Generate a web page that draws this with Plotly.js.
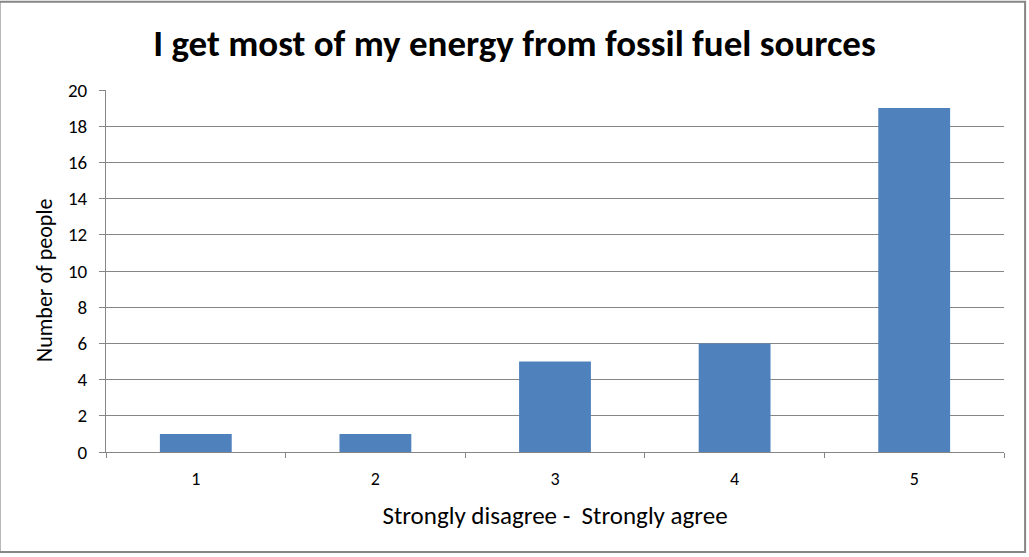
<!DOCTYPE html>
<html>
<head>
<meta charset="utf-8">
<script src="https://cdn.plot.ly/plotly-3.0.1.min.js"></script>
<style>
html,body{margin:0;padding:0;background:#fff;}
#chart{width:1029px;height:557px;}
</style>
</head>
<body>
<div id="chart"></div>
<script>
const categories = ["1", "2", "3", "4", "5"];
const counts = [1, 1, 5, 6, 19];
const yTicks = [0, 2, 4, 6, 8, 10, 12, 14, 16, 18, 20];

const titleText = "I get most of my energy from fossil fuel sources";
const xTitle = "Strongly disagree -  Strongly agree";
const yTitle = "Number of people";

const gray = "#868686";
const font = "Carlito, 'Open Sans', 'Noto Sans', sans-serif";

const trace = {
  type: "bar",
  x: categories,
  y: counts,
  marker: {color: "#4F81BD"},
  hoverinfo: "x+y"
};

const layout = {
  width: 1029,
  height: 557,
  margin: {l: 106, r: 25, t: 90, b: 105},
  paper_bgcolor: "#fff",
  plot_bgcolor: "#fff",
  bargap: 0.6,
  showlegend: false,
  title: {
    text: "<b>" + titleText + "</b>",
    x: 0.5, xref: "container", xanchor: "center",
    y: 1, yref: "container", yanchor: "top", pad: {t: 30},
    font: {family: font, size: 37, color: "#000"}
  },
  xaxis: {
    type: "category",
    showline: true, linecolor: gray, linewidth: 1,
    ticks: "outside", tickson: "boundaries", ticklen: 5, tickcolor: gray,
    showgrid: false, zeroline: false,
    tickfont: {family: font, size: 18, color: "#000"},
    ticklabelstandoff: 10,
    title: {text: xTitle, font: {family: font, size: 25, color: "#000"}, standoff: 17},
    automargin: false
  },
  yaxis: {
    range: [0, 20],
    tickvals: yTicks,
    showline: true, linecolor: gray, linewidth: 1,
    ticks: "outside", ticklen: 6, tickcolor: gray,
    showgrid: true, gridcolor: gray, gridwidth: 1,
    zeroline: false,
    tickfont: {family: font, size: 19, color: "#000"},
    ticklabelstandoff: 8,
    automargin: false
  },
  annotations: [{
    text: yTitle, textangle: -90, showarrow: false,
    xref: "paper", yref: "paper", x: -0.0679, y: 0.4724,
    xanchor: "center", yanchor: "middle",
    font: {family: font, size: 22, color: "#000"}
  }],
  shapes: [{
    type: "rect", xref: "paper", yref: "paper",
    x0: -0.1185, x1: 1.0235, y0: -0.2765, y1: 1.2435,
    line: {color: gray, width: 2}, fillcolor: "rgba(0,0,0,0)"
  }]
};

Plotly.newPlot("chart", [trace], layout, {displayModeBar: false, staticPlot: true});
</script>
</body>
</html>
